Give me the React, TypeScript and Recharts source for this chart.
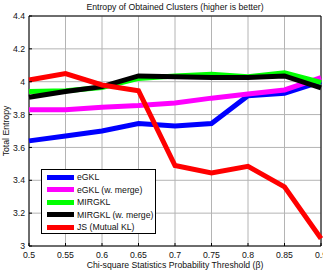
import React from "react";
import { LineChart, Line, XAxis, YAxis, CartesianGrid, ReferenceArea } from "recharts";

// Chi-square probability thresholds (beta)
const thresholds = [0.5, 0.55, 0.6, 0.65, 0.7, 0.75, 0.8, 0.85, 0.9];

// Total entropy of the obtained clusters per method
const eGKL = [3.64, 3.67, 3.7, 3.745, 3.73, 3.745, 3.915, 3.93, 4.0];
const eGKLMerge = [3.83, 3.83, 3.845, 3.855, 3.87, 3.9, 3.925, 3.95, 4.025];
const mirgkl = [3.94, 3.945, 3.965, 4.02, 4.035, 4.045, 4.03, 4.055, 3.995];
const mirgklMerge = [3.905, 3.94, 3.97, 4.035, 4.03, 4.025, 4.025, 4.035, 3.963];
const jsMutualKL = [4.01, 4.05, 3.98, 3.945, 3.49, 3.445, 3.485, 3.36, 3.045];

const xTicks = [0.5, 0.55, 0.6, 0.65, 0.7, 0.75, 0.8, 0.85, 0.9];
const yTicks = [3, 3.2, 3.4, 3.6, 3.8, 4, 4.2, 4.4];

const seriesNames = ["eGKL", "eGKL (w. merge)", "MIRGKL", "MIRGKL (w. merge)", "JS (Mutual KL)"];
const seriesColors = ["#0000ff", "#ff00ff", "#00ff00", "#000000", "#ff0000"];
const seriesValues = [eGKL, eGKLMerge, mirgkl, mirgklMerge, jsMutualKL];

const title = "Entropy of Obtained Clusters (higher is better)";
const xTitle = "Chi-square Statistics Probability Threshold (\u03b2)";
const yTitle = "Total Entropy";

const FONT = "'Liberation Sans', Arial, sans-serif";
const FS = 8.7;
const W = 323;
const H = 271;

const data = thresholds.map((t, i) => {
  const row: Record<string, number> = { t };
  seriesValues.forEach((vals, s) => {
    row["s" + s] = vals[i];
  });
  return row;
});

const XTick = (p: any) => (
  <g>
    <line x1={p.x} x2={p.x} y1={p.y - 6} y2={p.y - 9} stroke="#000" strokeWidth={1} />
    <text x={p.x} y={p.y} dy="0.71em" textAnchor="middle" fontSize={FS} fontFamily={FONT} fill="#111">
      {String(p.payload.value)}
    </text>
  </g>
);

const YTick = (p: any) => (
  <g>
    <line x1={p.x + 4} x2={p.x + 7} y1={p.y} y2={p.y} stroke="#000" strokeWidth={1} />
    <text x={p.x} y={p.y} dy="0.355em" textAnchor="end" fontSize={FS} fontFamily={FONT} fill="#111">
      {String(p.payload.value)}
    </text>
  </g>
);

const Empty = () => <g />;

export default function App() {
  return (
    <div style={{ position: "absolute", left: 0, top: 0, width: W, height: H, background: "#fff" }}>
      <LineChart
        width={W}
        height={H}
        data={data}
        margin={{ top: 16, right: 2, bottom: 0, left: 0 }}
      >
        <CartesianGrid stroke="#b4b4b4" strokeWidth={1} />
        <XAxis
          dataKey="t"
          type="number"
          domain={[0.5, 0.9]}
          ticks={xTicks}
          interval={0}
          height={25}
          tickSize={0}
          tickMargin={6}
          tickLine={false}
          axisLine={false}
          tick={XTick}
        />
        <XAxis
          xAxisId="top"
          dataKey="t"
          type="number"
          orientation="top"
          domain={[0.5, 0.9]}
          ticks={xTicks}
          interval={0}
          height={0}
          mirror
          tickSize={3}
          tickLine={{ stroke: "#000" }}
          axisLine={false}
          tick={Empty}
        />
        <YAxis
          type="number"
          domain={[3, 4.4]}
          ticks={yTicks}
          interval={0}
          width={29}
          tickSize={0}
          tickMargin={4}
          tickLine={false}
          axisLine={false}
          tick={YTick}
        />
        <YAxis
          yAxisId="right"
          type="number"
          orientation="right"
          domain={[3, 4.4]}
          ticks={yTicks}
          interval={0}
          width={0}
          mirror
          tickSize={3}
          tickLine={{ stroke: "#000" }}
          axisLine={false}
          tick={Empty}
        />
        {seriesValues.map((_, s) => (
          <Line
            key={s}
            dataKey={"s" + s}
            name={seriesNames[s]}
            stroke={seriesColors[s]}
            strokeWidth={5}
            dot={false}
            activeDot={false}
            isAnimationActive={false}
            strokeLinejoin="miter"
          />
        ))}
        <ReferenceArea x1={0.5} x2={0.9} y1={3} y2={4.4} fill="none" stroke="#000" strokeWidth={1} ifOverflow="visible" />
      </LineChart>

      <svg
        width={W}
        height={H}
        style={{ position: "absolute", left: 0, top: 0, pointerEvents: "none" }}
      >
        <text x={175} y={10} textAnchor="middle" fontSize={FS} fontFamily={FONT} fill="#111">
          {title}
        </text>
        <text x={175} y={268} textAnchor="middle" fontSize={FS} fontFamily={FONT} fill="#111">
          {xTitle}
        </text>
        <text
          x={9}
          y={131}
          transform="rotate(-90 9 131)"
          textAnchor="middle"
          fontSize={FS}
          fontFamily={FONT}
          fill="#111"
        >
          {yTitle}
        </text>
      </svg>

      <div
        style={{
          position: "absolute",
          left: 41,
          top: 169,
          width: 115,
          height: 65,
          border: "1px solid #000",
          background: "#fff",
          boxSizing: "border-box",
          paddingTop: 1,
        }}
      >
        {seriesNames.map((name, s) => (
          <div
            key={name}
            style={{ display: "flex", alignItems: "center", height: 12.5, fontFamily: FONT, fontSize: FS, color: "#111" }}
          >
            <div style={{ marginLeft: 5, width: 27, height: 5, background: seriesColors[s] }} />
            <span style={{ marginLeft: 3, whiteSpace: "nowrap" }}>{name}</span>
          </div>
        ))}
      </div>
    </div>
  );
}
